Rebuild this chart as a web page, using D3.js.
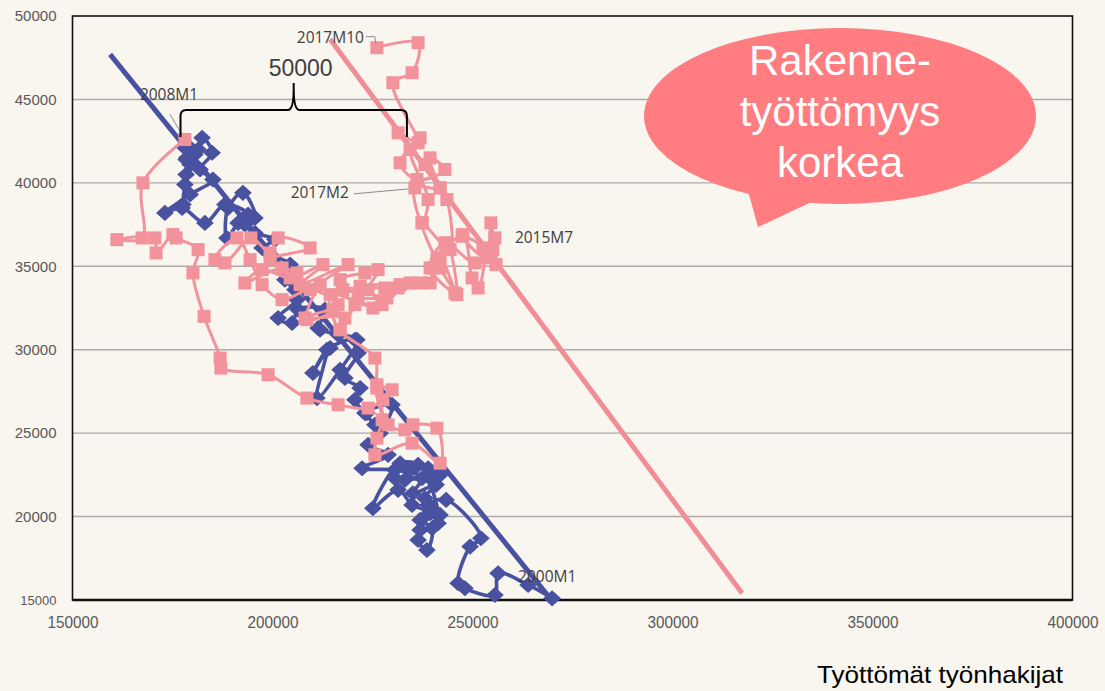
<!DOCTYPE html>
<html>
<head>
<meta charset="utf-8">
<script src="https://cdn.jsdelivr.net/npm/d3@7"></script>
<style>
	body { margin: 0; background: #f9f5ef; }
	svg { display: block; }
</style>
</head>
<body>
<div id="beveridge"></div>
<script>
// Blue series 2000M1 - 2007M12: unemployed job seekers (x) and vacancies (y)
var blueStart = 2000
var blueUnemployed = [
	269900, 263900, 256400, 255600, 248100, 246400, 249400, 252100, 243400, 238900, 236400, 238600,
	239900, 236900, 241900, 238100, 240900, 235100, 237400, 234400, 241100, 233100, 236400, 231900,
	225100, 231400, 234900, 239400, 236900, 241400, 238900, 241900, 230600, 239400, 230600, 222400,
	228900, 223900, 226900, 229900, 223600, 225600, 223100, 220600, 221900, 218100, 221400, 220600,
	214400, 210100, 213600, 211100, 216900, 221100, 216400, 211900, 211400, 213100, 206400, 204900,
	201400, 206100, 205600, 203100, 204400, 199400, 197400, 200600, 195600, 193100, 195600, 192600,
	188900, 188600, 191400, 193900, 188100, 183100, 177400, 173100, 179400, 185100, 181900, 184900,
	182400, 180600, 178600, 179400, 178100, 177600, 178400, 178900, 181400, 179400, 178400, 178100
]
var blueVacancies = [
	15100, 15900, 16600, 15300, 15700, 16000, 18200, 18700, 21000, 20700, 18600, 18000,
	19300, 19800, 20100, 21100, 21900, 21400, 22300, 22800, 22800, 22200, 23100, 23200,
	20500, 21600, 20700, 20200, 19200, 19600, 22900, 22500, 22300, 22300, 22800, 22900,
	23700, 24300, 25000, 26700, 26200, 25500, 26200, 27000, 27700, 28300, 29800, 30600,
	30100, 28600, 30000, 27100, 28800, 30600, 30900, 31200, 31300, 32400, 32400, 31600,
	31900, 33000, 33600, 34200, 35100, 35700, 36100, 36600, 37000, 37500, 37900, 39400,
	38500, 36700, 37600, 38100, 38700, 37600, 38500, 38200, 39300, 40200, 40800, 41800,
	42700, 41700, 41500, 41100, 39900, 38700, 40500, 41400, 42000, 42100, 41400, 42100
]

// Pink series 2008M1 - 2017M10
var pinkStart = 2008
var pinkUnemployed = [
	178100, 167600, 167400, 161100, 170600, 170900, 175100, 175900, 181400, 180100, 182900, 186900,
	187100, 198900, 208600, 216400, 223900, 227600, 229900, 226100, 227400, 226100, 225600, 234900,
	241900, 241100, 235100, 233100, 228900, 226100, 225600, 216900, 218100, 208100, 216400, 209400,
	202400, 197400, 194400, 191100, 185600, 188100, 194600, 199400, 201400, 209400, 199400, 206100,
	202400, 193100, 197400, 204400, 212600, 206900, 218900, 211900, 208600, 215100, 216900, 223100,
	226400, 220600, 216900, 214400, 225100, 221400, 228600, 217600, 223900, 227400, 231900, 228100,
	234400, 221900, 231400, 236900, 239400, 240100, 241900, 246100, 243600, 241100, 247600, 249900,
	251400, 252600, 247400, 253400, 254600, 255900, 255600, 255100, 250600, 243100, 239400, 245600,
	241900, 237400, 244400, 243600, 241900, 239400, 243100, 236100, 231900, 236900, 234400, 238900,
	237400, 235600, 241900, 238100, 231400, 236400, 230100, 234900, 236400, 226100
]
var pinkVacancies = [
	42600, 40000, 36700, 36600, 36700, 35800, 36900, 36700, 36000, 34600, 32000, 29500,
	28900, 28500, 27100, 26700, 26500, 27000, 27600, 27700, 25800, 24700, 23700, 24400,
	23200, 25300, 25500, 25200, 25500, 27900, 29500, 31200, 31900, 31900, 32700, 33600,
	33000, 33900, 35400, 36700, 35400, 35200, 36700, 35800, 36700, 36100, 35400, 34600,
	34900, 34000, 34800, 34300, 35100, 33900, 35100, 33900, 31800, 32400, 34200, 34600,
	34800, 32700, 31200, 33300, 32500, 33000, 33100, 33600, 33600, 32700, 33900, 33700,
	34000, 33800, 33700, 34000, 34000, 34900, 35500, 33300, 36400, 35400, 36900, 34300,
	33700, 36100, 36800, 35500, 37600, 35100, 36700, 36000, 35200, 36400, 34900, 33400,
	34900, 37600, 36000, 39000, 39700, 41500, 40800, 40200, 41200, 42700, 42000, 39000,
	37600, 39700, 39700, 41100, 43000, 42400, 46000, 46600, 48400, 48100
]

// Fitted lines [unemployed, vacancies] at both ends
var blueTrend = [[159400, 47700], [269400, 15100]]
var pinkTrend = [[214400, 48600], [317400, 15400]]

var xTicks = [150000, 200000, 250000, 300000, 350000, 400000]
var yTicks = [15000, 20000, 25000, 30000, 35000, 40000, 45000, 50000]

var pointLabels = ["2000M1", "2008M1", "2015M7", "2017M2", "2017M10"]

// 50000 brace between 2008M1 and the pink curve
var braceFrom = 177000, braceTo = 233600, braceWidthLabel = "50000"

var bubbleLines = ["Rakenne-", "työttömyys", "korkea"]
var xTitle = "Työttömät työnhakijat"

;(function() {
	var w = 1105, h = 691,
		margins = {top: 16, bottom: 600, left: 72.5, right: 1072.5},
		blueColor = "#4852a1",
		pinkColor = "#f2929a",
		tickColor = "#595959",
		labelColor = "#404040",
		svg = d3.select("#beveridge").append("svg")
			.attr("width", w)
			.attr("height", h)

	var x = d3.scaleLinear().domain([150000, 400000]).range([margins.left, margins.right])
	var y = d3.scaleLinear().domain([15000, 50000]).range([margins.bottom, margins.top])

	var toPoints = (xs, ys, start) => xs.map((v, i) => ({
		u: v, v: ys[i],
		name: (start + Math.floor(i / 12)) + "M" + (i % 12 + 1)
	}))
	var blue = toPoints(blueUnemployed, blueVacancies, blueStart)
	var pink = toPoints(pinkUnemployed, pinkVacancies, pinkStart)

	svg.append("rect")
		.attr("width", w).attr("height", h)
		.attr("fill", "#f9f5ef")

	// gridlines
	svg.append("g")
		.selectAll("line")
		.data(yTicks.slice(1, -1))
		.enter().append("line")
		.attr("x1", margins.left).attr("x2", margins.right)
		.attr("y1", d => y(d)).attr("y2", d => y(d))
		.attr("stroke", "#aeaaa6")
		.attr("stroke-width", 1.4)

	// axes, labels only
	var xAxis = d3.axisBottom(x).tickValues(xTicks).tickSize(0).tickPadding(16).tickFormat(d3.format("d"))
	var yAxis = d3.axisLeft(y).tickValues(yTicks).tickSize(0).tickPadding(16).tickFormat(d3.format("d"))

	var gx = svg.append("g")
		.attr("transform", "translate(0," + margins.bottom + ")")
		.call(xAxis)
	gx.select(".domain").remove()
	gx.selectAll("text")
		.attr("fill", tickColor)
		.attr("textLength", 51)
		.attr("lengthAdjust", "spacingAndGlyphs")
		.style("font-family", "'Liberation Sans', sans-serif")
		.style("font-size", "17px")

	var gy = svg.append("g")
		.attr("transform", "translate(" + margins.left + ",0)")
		.call(yAxis)
	gy.select(".domain").remove()
	gy.selectAll("text")
		.attr("fill", tickColor)
		.style("font-family", "'Liberation Sans', sans-serif")
		.style("font-size", d => d === 15000 ? "13px" : "15px")

	// plot frame
	svg.append("rect")
		.attr("x", margins.left).attr("y", margins.top)
		.attr("width", margins.right - margins.left)
		.attr("height", margins.bottom - margins.top)
		.attr("fill", "none")
		.attr("stroke", "#111")
		.attr("stroke-width", 1.6)
	svg.append("line")
		.attr("x1", margins.left).attr("x2", margins.right)
		.attr("y1", margins.bottom).attr("y2", margins.bottom)
		.attr("stroke", "#111").attr("stroke-width", 2.6)

	// trend lines
	var trendLine = d3.line().x(d => x(d[0])).y(d => y(d[1]))
	svg.append("path").attr("d", trendLine(blueTrend))
		.attr("stroke", blueColor).attr("stroke-width", 5).attr("fill", "none")
	svg.append("path").attr("d", trendLine(pinkTrend))
		.attr("stroke", "#f08d95").attr("stroke-width", 5).attr("fill", "none")

	var seriesLine = d3.line()
		.x(d => x(d.u)).y(d => y(d.v))
		.curve(d3.curveCatmullRom.alpha(0.5))

	// blue series
	svg.append("path").attr("d", seriesLine(blue))
		.attr("stroke", blueColor).attr("stroke-width", 3.6).attr("fill", "none")
		.attr("stroke-linejoin", "round")
	svg.append("g").selectAll("path")
		.data(blue)
		.enter().append("path")
		.attr("d", d3.symbol(d3.symbolDiamond2, 165))
		.attr("transform", d => "translate(" + x(d.u) + "," + y(d.v) + ") scale(1.1,1)")
		.attr("fill", blueColor)

	// pink series
	svg.append("path").attr("d", seriesLine(pink))
		.attr("stroke", pinkColor).attr("stroke-width", 3).attr("fill", "none")
		.attr("stroke-linejoin", "round")
	svg.append("g").selectAll("rect")
		.data(pink)
		.enter().append("rect")
		.attr("x", d => x(d.u) - 6.5)
		.attr("y", d => y(d.v) - 6.5)
		.attr("width", 13).attr("height", 13)
		.attr("fill", pinkColor)

	// point labels
	var labelStyle = {
		"2000M1": {dx: -34, dy: -16, anchor: "start"},
		"2008M1": {dx: -45, dy: -39, anchor: "start", leader: [[-15, -25], [-4, -7]]},
		"2015M7": {dx: 20, dy: 5, anchor: "start"},
		"2017M2": {dx: -66, dy: 10, anchor: "end", leader: [[-61, 6], [-6, 1]]},
		"2017M10": {dx: -13, dy: -5, anchor: "end", leader: [[-11, -11], [-2, -11], [-1, -4]]}
	}
	var allPoints = blue.concat(pink)
	pointLabels.forEach(name => {
		var p = allPoints.find(d => d.name === name),
			s = labelStyle[name],
			px = x(p.u), py = y(p.v)
		if (s.leader) {
			svg.append("path")
				.attr("d", d3.line()(s.leader.map(o => [px + o[0], py + o[1]])))
				.attr("stroke", "#8c8c8c").attr("stroke-width", 1).attr("fill", "none")
		}
		svg.append("text")
			.attr("x", px + s.dx).attr("y", py + s.dy)
			.attr("text-anchor", s.anchor)
			.attr("fill", labelColor)
			.style("font-family", "'Open Sans', sans-serif")
			.style("font-size", "15.5px")
			.text(name)
	})

	// brace
	var bx0 = x(braceFrom), bx1 = x(braceTo), bm = (bx0 + bx1) / 2,
		by = 110, bEnd = 137, bTip = 83
	svg.append("path")
		.attr("d", "M" + bx0 + "," + bEnd + " L" + bx0 + "," + (by + 6) +
			" Q" + bx0 + "," + by + " " + (bx0 + 6) + "," + by +
			" L" + (bm - 6) + "," + by +
			" Q" + bm + "," + by + " " + bm + "," + (bTip + 6) + " L" + bm + "," + bTip +
			" M" + bm + "," + (bTip + 6) +
			" Q" + bm + "," + by + " " + (bm + 6) + "," + by +
			" L" + (bx1 - 6) + "," + by +
			" Q" + bx1 + "," + by + " " + bx1 + "," + (by + 6) +
			" L" + bx1 + "," + bEnd)
		.attr("stroke", "#000").attr("stroke-width", 2).attr("fill", "none")
	svg.append("text")
		.attr("x", bm + 7).attr("y", 76)
		.attr("text-anchor", "middle")
		.attr("fill", labelColor)
		.style("font-family", "'Liberation Sans', sans-serif")
		.style("font-size", "23px")
		.text(braceWidthLabel)

	// speech bubble
	var bubble = svg.append("g")
	bubble.append("ellipse")
		.attr("cx", 840).attr("cy", 116).attr("rx", 196).attr("ry", 88)
		.attr("fill", "#ff7c80")
	bubble.append("path")
		.attr("d", "M745,180 L758,227 L820,198 Z")
		.attr("fill", "#ff7c80")
	bubble.selectAll("text")
		.data(bubbleLines)
		.enter().append("text")
		.attr("x", 840)
		.attr("y", (d, i) => 75 + i * 51)
		.attr("text-anchor", "middle")
		.attr("fill", "#fff")
		.style("font-family", "'Liberation Sans', sans-serif")
		.style("font-size", "42px")
		.text(d => d)

	// x axis title
	svg.append("text")
		.attr("x", 1063).attr("y", 683)
		.attr("text-anchor", "end")
		.attr("fill", "#000")
		.attr("textLength", 246)
		.attr("lengthAdjust", "spacingAndGlyphs")
		.style("font-family", "'Liberation Sans', sans-serif")
		.style("font-size", "24px")
		.text(xTitle)
})()
</script>
</body>
</html>
